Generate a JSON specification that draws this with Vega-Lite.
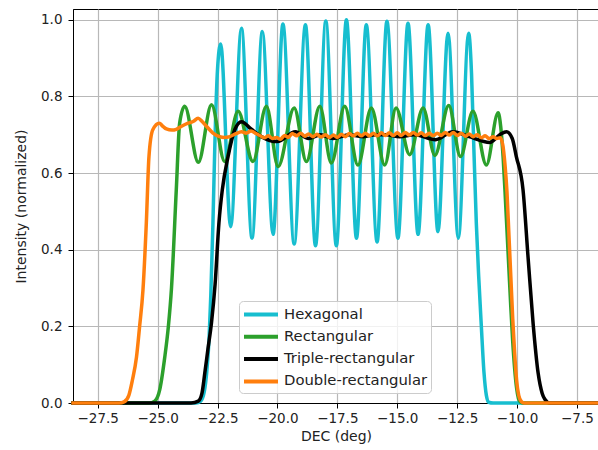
{
  "$schema": "https://vega.github.io/schema/vega-lite/v6.json",
  "autosize": {"type": "none"},
  "padding": {"left": 73, "top": 9, "right": 0, "bottom": 47},
  "width": 526,
  "height": 394,
  "background": "white",
  "config": {
    "view": {"stroke": "black", "strokeWidth": 1},
    "font": "DejaVu Sans",
    "axis": {
      "labelFont": "DejaVu Sans", "labelFontSize": 13.5, "labelColor": "#222",
      "titleFont": "DejaVu Sans", "titleFontSize": 14, "titleFontWeight": "normal", "titleColor": "#222",
      "gridColor": "#b8b8b8", "gridWidth": 1.2,
      "tickColor": "black", "tickSize": 5, "domainColor": "black", "labelPadding": 3
    },
    "legend": {
      "labelFont": "DejaVu Sans", "labelFontSize": 14.8, "labelColor": "#222"
    }
  },
  "data": {"values": [
    {"s":"Hexagonal","x":-28.6,"y":0},{"s":"Hexagonal","x":-23.4,"y":0},{"s":"Hexagonal","x":-23.2,"y":0.005},{"s":"Hexagonal","x":-23.05,"y":0.03},{"s":"Hexagonal","x":-22.95,"y":0.08},{"s":"Hexagonal","x":-22.85,"y":0.17},{"s":"Hexagonal","x":-22.78,"y":0.28},{"s":"Hexagonal","x":-22.69,"y":0.47},{"s":"Hexagonal","x":-22.6,"y":0.7},{"s":"Hexagonal","x":-22.5,"y":0.87},{"s":"Hexagonal","x":-22.37,"y":0.937},
    {"s":"Hexagonal","x":-21.95,"y":0.46},{"s":"Hexagonal","x":-21.5,"y":0.978},{"s":"Hexagonal","x":-21.06,"y":0.43},{"s":"Hexagonal","x":-20.63,"y":0.969},{"s":"Hexagonal","x":-20.18,"y":0.44},{"s":"Hexagonal","x":-19.77,"y":0.989},{"s":"Hexagonal","x":-19.3,"y":0.415},{"s":"Hexagonal","x":-18.83,"y":0.987},{"s":"Hexagonal","x":-18.41,"y":0.41},{"s":"Hexagonal","x":-17.98,"y":0.997},{"s":"Hexagonal","x":-17.54,"y":0.41},{"s":"Hexagonal","x":-17.12,"y":1.0},{"s":"Hexagonal","x":-16.7,"y":0.43},{"s":"Hexagonal","x":-16.29,"y":0.987},{"s":"Hexagonal","x":-15.84,"y":0.42},{"s":"Hexagonal","x":-15.43,"y":0.996},{"s":"Hexagonal","x":-14.97,"y":0.43},{"s":"Hexagonal","x":-14.55,"y":0.991},{"s":"Hexagonal","x":-14.13,"y":0.44},{"s":"Hexagonal","x":-13.71,"y":0.987},{"s":"Hexagonal","x":-13.3,"y":0.447},{"s":"Hexagonal","x":-12.88,"y":0.965},{"s":"Hexagonal","x":-12.45,"y":0.43},{"s":"Hexagonal","x":-12.02,"y":0.965},
    {"s":"Hexagonal","x":-11.9,"y":0.86},{"s":"Hexagonal","x":-11.8,"y":0.66},{"s":"Hexagonal","x":-11.7,"y":0.47},{"s":"Hexagonal","x":-11.6,"y":0.33},{"s":"Hexagonal","x":-11.49,"y":0.2},{"s":"Hexagonal","x":-11.38,"y":0.08},{"s":"Hexagonal","x":-11.28,"y":0.02},{"s":"Hexagonal","x":-11.18,"y":0.002},{"s":"Hexagonal","x":-11.0,"y":0},{"s":"Hexagonal","x":-6.6,"y":0},

    {"s":"Rectangular","x":-28.6,"y":0},{"s":"Rectangular","x":-25.35,"y":0},{"s":"Rectangular","x":-25.12,"y":0.005},{"s":"Rectangular","x":-24.91,"y":0.035},{"s":"Rectangular","x":-24.7,"y":0.12},{"s":"Rectangular","x":-24.55,"y":0.2},{"s":"Rectangular","x":-24.42,"y":0.3},{"s":"Rectangular","x":-24.22,"y":0.556},{"s":"Rectangular","x":-24.08,"y":0.73},{"s":"Rectangular","x":-23.87,"y":0.774},
    {"s":"Rectangular","x":-23.3,"y":0.628},{"s":"Rectangular","x":-22.75,"y":0.778},{"s":"Rectangular","x":-22.2,"y":0.63},{"s":"Rectangular","x":-21.64,"y":0.761},{"s":"Rectangular","x":-21.02,"y":0.63},{"s":"Rectangular","x":-20.46,"y":0.774},{"s":"Rectangular","x":-19.97,"y":0.617},{"s":"Rectangular","x":-19.3,"y":0.77},{"s":"Rectangular","x":-18.79,"y":0.63},{"s":"Rectangular","x":-18.23,"y":0.774},{"s":"Rectangular","x":-17.75,"y":0.626},{"s":"Rectangular","x":-17.19,"y":0.774},{"s":"Rectangular","x":-16.64,"y":0.621},{"s":"Rectangular","x":-16.08,"y":0.77},{"s":"Rectangular","x":-15.52,"y":0.621},{"s":"Rectangular","x":-15.05,"y":0.77},{"s":"Rectangular","x":-14.48,"y":0.648},{"s":"Rectangular","x":-13.92,"y":0.77},{"s":"Rectangular","x":-13.43,"y":0.646},{"s":"Rectangular","x":-12.85,"y":0.776},{"s":"Rectangular","x":-12.36,"y":0.643},{"s":"Rectangular","x":-11.84,"y":0.761},{"s":"Rectangular","x":-11.28,"y":0.621},{"s":"Rectangular","x":-10.79,"y":0.757},
    {"s":"Rectangular","x":-10.68,"y":0.72},{"s":"Rectangular","x":-10.58,"y":0.64},{"s":"Rectangular","x":-10.5,"y":0.55},{"s":"Rectangular","x":-10.42,"y":0.45},{"s":"Rectangular","x":-10.34,"y":0.35},{"s":"Rectangular","x":-10.26,"y":0.25},{"s":"Rectangular","x":-10.18,"y":0.16},{"s":"Rectangular","x":-10.1,"y":0.09},{"s":"Rectangular","x":-10.02,"y":0.04},{"s":"Rectangular","x":-9.94,"y":0.012},{"s":"Rectangular","x":-9.85,"y":0.002},{"s":"Rectangular","x":-9.75,"y":0},{"s":"Rectangular","x":-6.6,"y":0},

    {"s":"Triple-rectangular","x":-28.6,"y":0},{"s":"Triple-rectangular","x":-23.6,"y":0},{"s":"Triple-rectangular","x":-23.3,"y":0.005},{"s":"Triple-rectangular","x":-23.15,"y":0.025},{"s":"Triple-rectangular","x":-23.03,"y":0.078},{"s":"Triple-rectangular","x":-22.9,"y":0.14},{"s":"Triple-rectangular","x":-22.75,"y":0.21},{"s":"Triple-rectangular","x":-22.6,"y":0.31},{"s":"Triple-rectangular","x":-22.44,"y":0.47},{"s":"Triple-rectangular","x":-22.3,"y":0.556},{"s":"Triple-rectangular","x":-22.06,"y":0.643},{"s":"Triple-rectangular","x":-21.78,"y":0.713},{"s":"Triple-rectangular","x":-21.5,"y":0.734},
    {"s":"Triple-rectangular","x":-21.1,"y":0.715},{"s":"Triple-rectangular","x":-20.67,"y":0.695},{"s":"Triple-rectangular","x":-20.0,"y":0.682},{"s":"Triple-rectangular","x":-19.25,"y":0.708},{"s":"Triple-rectangular","x":-18.7,"y":0.69},{"s":"Triple-rectangular","x":-18.2,"y":0.7},{"s":"Triple-rectangular","x":-17.68,"y":0.69},{"s":"Triple-rectangular","x":-17.0,"y":0.7},{"s":"Triple-rectangular","x":-16.4,"y":0.695},{"s":"Triple-rectangular","x":-15.9,"y":0.7},{"s":"Triple-rectangular","x":-15.45,"y":0.7},{"s":"Triple-rectangular","x":-14.9,"y":0.695},{"s":"Triple-rectangular","x":-14.3,"y":0.7},{"s":"Triple-rectangular","x":-13.4,"y":0.687},{"s":"Triple-rectangular","x":-12.67,"y":0.708},{"s":"Triple-rectangular","x":-12.0,"y":0.695},{"s":"Triple-rectangular","x":-11.14,"y":0.68},{"s":"Triple-rectangular","x":-10.72,"y":0.7},{"s":"Triple-rectangular","x":-10.44,"y":0.708},
    {"s":"Triple-rectangular","x":-10.2,"y":0.69},{"s":"Triple-rectangular","x":-10.03,"y":0.643},{"s":"Triple-rectangular","x":-9.75,"y":0.556},{"s":"Triple-rectangular","x":-9.54,"y":0.38},{"s":"Triple-rectangular","x":-9.33,"y":0.208},{"s":"Triple-rectangular","x":-9.12,"y":0.078},{"s":"Triple-rectangular","x":-8.95,"y":0.025},{"s":"Triple-rectangular","x":-8.84,"y":0.01},{"s":"Triple-rectangular","x":-8.63,"y":0},{"s":"Triple-rectangular","x":-6.6,"y":0},

    {"s":"Double-rectangular","x":-28.6,"y":0},{"s":"Double-rectangular","x":-26.6,"y":0},{"s":"Double-rectangular","x":-26.4,"y":0.003},{"s":"Double-rectangular","x":-26.2,"y":0.02},{"s":"Double-rectangular","x":-26.05,"y":0.06},{"s":"Double-rectangular","x":-25.88,"y":0.12},{"s":"Double-rectangular","x":-25.75,"y":0.2},{"s":"Double-rectangular","x":-25.61,"y":0.295},{"s":"Double-rectangular","x":-25.47,"y":0.47},{"s":"Double-rectangular","x":-25.36,"y":0.643},{"s":"Double-rectangular","x":-25.2,"y":0.713},{"s":"Double-rectangular","x":-24.93,"y":0.73},
    {"s":"Double-rectangular","x":-24.78,"y":0.722},{"s":"Double-rectangular","x":-24.63,"y":0.715},{"s":"Double-rectangular","x":-24.4,"y":0.712},{"s":"Double-rectangular","x":-24.22,"y":0.714},{"s":"Double-rectangular","x":-24.0,"y":0.722},{"s":"Double-rectangular","x":-23.73,"y":0.73},{"s":"Double-rectangular","x":-23.5,"y":0.735},{"s":"Double-rectangular","x":-23.31,"y":0.743},{"s":"Double-rectangular","x":-23.15,"y":0.735},{"s":"Double-rectangular","x":-22.96,"y":0.722},{"s":"Double-rectangular","x":-22.7,"y":0.705},{"s":"Double-rectangular","x":-22.41,"y":0.695},{"s":"Double-rectangular","x":-22.2,"y":0.693},{"s":"Double-rectangular","x":-21.99,"y":0.695},{"s":"Double-rectangular","x":-21.75,"y":0.702},{"s":"Double-rectangular","x":-21.5,"y":0.708},{"s":"Double-rectangular","x":-21.3,"y":0.704},{"s":"Double-rectangular","x":-21.1,"y":0.71},{"s":"Double-rectangular","x":-20.9,"y":0.703},
    {"s":"Double-rectangular","x":-20.74,"y":0.698},{"s":"Double-rectangular","x":-20.55,"y":0.692},{"s":"Double-rectangular","x":-20.38,"y":0.697},{"s":"Double-rectangular","x":-20.2,"y":0.69},{"s":"Double-rectangular","x":-20.04,"y":0.693},{"s":"Double-rectangular","x":-19.88,"y":0.688},{"s":"Double-rectangular","x":-19.7,"y":0.698},{"s":"Double-rectangular","x":-19.55,"y":0.693},{"s":"Double-rectangular","x":-19.38,"y":0.703},{"s":"Double-rectangular","x":-19.2,"y":0.697},{"s":"Double-rectangular","x":-19.03,"y":0.704},{"s":"Double-rectangular","x":-18.86,"y":0.696},{"s":"Double-rectangular","x":-18.7,"y":0.702},{"s":"Double-rectangular","x":-18.52,"y":0.695},{"s":"Double-rectangular","x":-18.35,"y":0.701},{"s":"Double-rectangular","x":-18.18,"y":0.694},{"s":"Double-rectangular","x":-18.0,"y":0.7},{"s":"Double-rectangular","x":-17.83,"y":0.693},{"s":"Double-rectangular","x":-17.66,"y":0.699},{"s":"Double-rectangular","x":-17.5,"y":0.693},{"s":"Double-rectangular","x":-17.33,"y":0.701},{"s":"Double-rectangular","x":-17.16,"y":0.695},{"s":"Double-rectangular","x":-17.0,"y":0.703},{"s":"Double-rectangular","x":-16.83,"y":0.697},{"s":"Double-rectangular","x":-16.66,"y":0.704},{"s":"Double-rectangular","x":-16.5,"y":0.697},{"s":"Double-rectangular","x":-16.33,"y":0.704},{"s":"Double-rectangular","x":-16.16,"y":0.697},{"s":"Double-rectangular","x":-16.0,"y":0.704},{"s":"Double-rectangular","x":-15.83,"y":0.697},{"s":"Double-rectangular","x":-15.66,"y":0.705},{"s":"Double-rectangular","x":-15.5,"y":0.698},{"s":"Double-rectangular","x":-15.33,"y":0.705},{"s":"Double-rectangular","x":-15.16,"y":0.698},{"s":"Double-rectangular","x":-15.0,"y":0.705},{"s":"Double-rectangular","x":-14.83,"y":0.698},{"s":"Double-rectangular","x":-14.66,"y":0.706},{"s":"Double-rectangular","x":-14.5,"y":0.699},{"s":"Double-rectangular","x":-14.33,"y":0.706},{"s":"Double-rectangular","x":-14.16,"y":0.699},{"s":"Double-rectangular","x":-14.0,"y":0.705},{"s":"Double-rectangular","x":-13.83,"y":0.698},{"s":"Double-rectangular","x":-13.66,"y":0.704},{"s":"Double-rectangular","x":-13.5,"y":0.697},{"s":"Double-rectangular","x":-13.33,"y":0.704},{"s":"Double-rectangular","x":-13.16,"y":0.698},{"s":"Double-rectangular","x":-13.0,"y":0.706},{"s":"Double-rectangular","x":-12.83,"y":0.699},{"s":"Double-rectangular","x":-12.66,"y":0.706},{"s":"Double-rectangular","x":-12.5,"y":0.698},{"s":"Double-rectangular","x":-12.33,"y":0.704},{"s":"Double-rectangular","x":-12.16,"y":0.696},{"s":"Double-rectangular","x":-12.0,"y":0.702},{"s":"Double-rectangular","x":-11.83,"y":0.695},{"s":"Double-rectangular","x":-11.66,"y":0.7},{"s":"Double-rectangular","x":-11.5,"y":0.692},{"s":"Double-rectangular","x":-11.33,"y":0.697},{"s":"Double-rectangular","x":-11.16,"y":0.69},{"s":"Double-rectangular","x":-11.0,"y":0.695},{"s":"Double-rectangular","x":-10.85,"y":0.69},{"s":"Double-rectangular","x":-10.7,"y":0.692},
    {"s":"Double-rectangular","x":-10.6,"y":0.675},{"s":"Double-rectangular","x":-10.5,"y":0.62},{"s":"Double-rectangular","x":-10.42,"y":0.55},{"s":"Double-rectangular","x":-10.34,"y":0.44},{"s":"Double-rectangular","x":-10.26,"y":0.33},{"s":"Double-rectangular","x":-10.18,"y":0.22},{"s":"Double-rectangular","x":-10.1,"y":0.13},{"s":"Double-rectangular","x":-10.02,"y":0.06},{"s":"Double-rectangular","x":-9.93,"y":0.02},{"s":"Double-rectangular","x":-9.82,"y":0.004},{"s":"Double-rectangular","x":-9.7,"y":0},{"s":"Double-rectangular","x":-6.6,"y":0}
  ]},
  "encoding": {
    "x": {"field": "x", "type": "quantitative",
      "scale": {"domain": [-28.53, -6.58], "nice": false, "zero": false},
      "axis": {"title": "DEC (deg)", "values": [-27.5, -25, -22.5, -20, -17.5, -15, -12.5, -10, -7.5], "format": ".1f", "titlePadding": 5, "labelFlush": false}},
    "y": {"field": "y", "type": "quantitative",
      "scale": {"domain": [0, 1.028], "nice": false},
      "axis": {"title": "Intensity (normalized)", "values": [0, 0.2, 0.4, 0.6, 0.8, 1.0], "format": ".1f", "labelPadding": 6, "titlePadding": 12}},
    "color": {"field": "s", "type": "nominal",
      "scale": {"domain": ["Hexagonal", "Rectangular", "Triple-rectangular", "Double-rectangular"], "range": ["#17becf", "#2ca02c", "#000000", "#ff7f0e"]},
      "legend": {"title": null, "orient": "none", "legendX": 166, "legendY": 292,
        "symbolType": "M-1,0H3", "symbolSize": 289, "symbolStrokeWidth": 4,
        "labelOffset": 21, "rowPadding": 3.3, "padding": 3,
        "fillColor": "rgba(255,255,255,0.8)", "strokeColor": "#cccccc", "cornerRadius": 4}}
  },
  "layer": [
    {"transform": [{"filter": "datum.s === 'Hexagonal'"}], "mark": {"type": "line", "strokeWidth": 3.5, "interpolate": "monotone"}},
    {"transform": [{"filter": "datum.s === 'Rectangular'"}], "mark": {"type": "line", "strokeWidth": 3.5, "interpolate": "monotone"}},
    {"transform": [{"filter": "datum.s === 'Triple-rectangular'"}], "mark": {"type": "line", "strokeWidth": 3.5, "interpolate": "monotone"}},
    {"transform": [{"filter": "datum.s === 'Double-rectangular'"}], "mark": {"type": "line", "strokeWidth": 3.5, "interpolate": "monotone"}}
  ]
}
